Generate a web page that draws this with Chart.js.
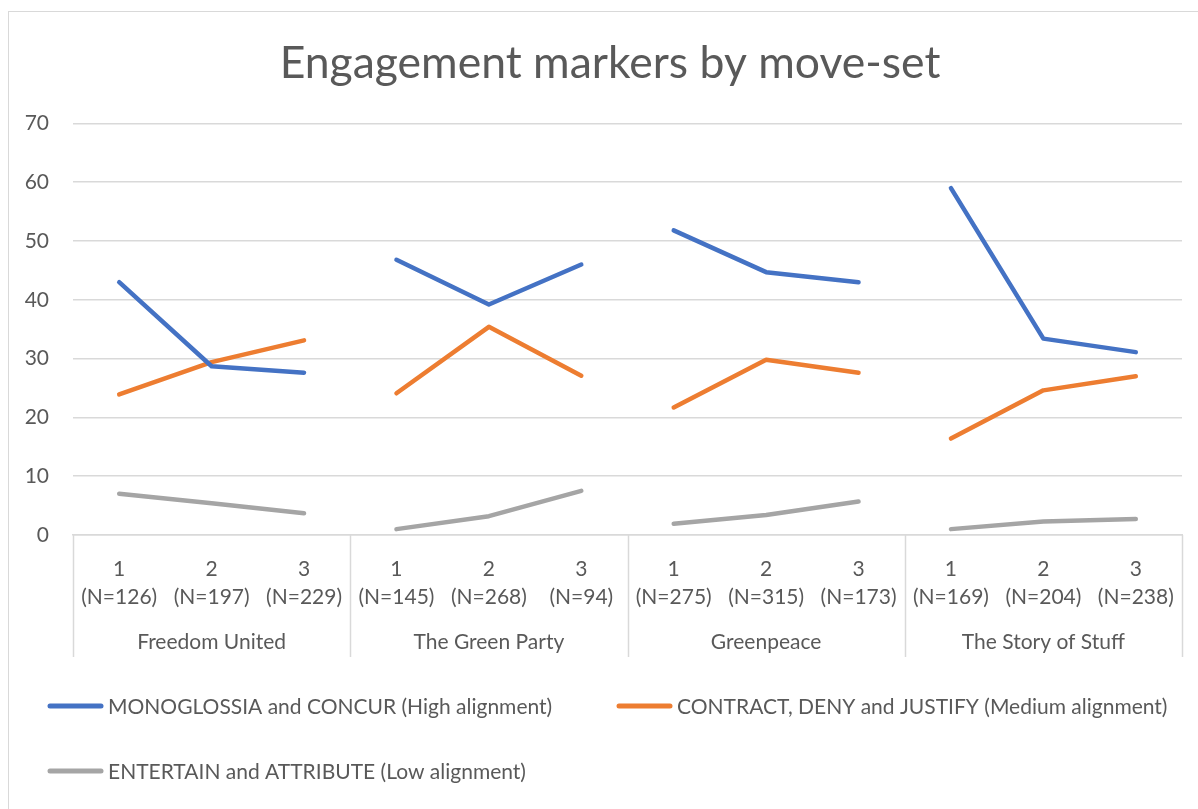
<!DOCTYPE html>
<html>
<head>
<meta charset="utf-8">
<title>Engagement markers by move-set</title>
<script src="https://cdn.jsdelivr.net/npm/chart.js@4.4.1/dist/chart.umd.min.js"></script>
<style>
  html, body { margin: 0; padding: 0; background: #ffffff; overflow: hidden; }
  #frame {
    position: absolute; left: 8px; top: 11px;
    width: 1204px; height: 812px;
    border: 1px solid #d9d9d9; box-sizing: border-box; background: #ffffff;
  }
  #frame canvas { display: block; }
</style>
</head>
<body>
<div id="frame"><canvas id="chart" width="1202" height="810"></canvas></div>
<script>
// Organisations (outer category level)
const groups = ['Freedom United', 'The Green Party', 'Greenpeace', 'The Story of Stuff'];
// Move-sets within each organisation (inner category level)
const moveSets = ['1', '2', '3'];
// Number of markers per move-set, in the same order as the categories
const sampleSizes = [126, 197, 229, 145, 268, 94, 275, 315, 173, 169, 204, 238];

// Percentages per engagement type
const highAlignment = [43.0, 28.7, 27.6, 46.8, 39.2, 46.0, 51.8, 44.7, 43.0, 59.0, 33.4, 31.1];
const mediumAlignment = [23.9, 29.4, 33.1, 24.1, 35.4, 27.1, 21.7, 29.8, 27.6, 16.4, 24.6, 27.0];
const lowAlignment = [7.0, 5.4, 3.7, 1.0, 3.2, 7.5, 1.9, 3.4, 5.7, 1.0, 2.3, 2.7];

const seriesNames = [
  'MONOGLOSSIA and CONCUR (High alignment)',
  'CONTRACT, DENY and JUSTIFY (Medium alignment)',
  'ENTERTAIN and ATTRIBUTE (Low alignment)'
];

const yTicks = [0, 10, 20, 30, 40, 50, 60, 70];

// Two-line inner labels: move-set number over its N
const categoryLabels = sampleSizes.map((n, i) => [moveSets[i % moveSets.length], '(N=' + n + ')']);

const TEXT = '#595959';
const RULE = '#d9d9d9';
const FONT = 'Lato, "Open Sans", sans-serif';
const perGroup = moveSets.length;

// Lines are not joined across organisations
const breakBetweenGroups = ctx =>
  (ctx.p0DataIndex % perGroup === perGroup - 1) ? 'rgba(0,0,0,0)' : undefined;

function lineSeries(label, data, color) {
  return {
    label, data,
    borderColor: color,
    backgroundColor: color,
    borderWidth: 4.5,
    borderCapStyle: 'round',
    borderJoinStyle: 'round',
    pointRadius: 0,
    pointHoverRadius: 0,
    tension: 0,
    fill: false,
    segment: { borderColor: breakBetweenGroups }
  };
}

// Outer category level: dividers and organisation names under the inner labels
const groupAxisPlugin = {
  id: 'groupAxis',
  afterDraw(chart) {
    const xs = chart.scales.x;
    const ctx = chart.ctx;
    const top = xs.top;
    const bottom = top + 122;
    ctx.save();
    ctx.strokeStyle = RULE;
    ctx.lineWidth = 1.5;
    for (let g = 0; g <= groups.length; g++) {
      const px = Math.round(xs.getPixelForValue(g * perGroup - 0.5)) + 0.5;
      ctx.beginPath();
      ctx.moveTo(px, top);
      ctx.lineTo(px, bottom);
      ctx.stroke();
    }
    ctx.fillStyle = TEXT;
    ctx.font = '21px ' + FONT;
    ctx.textAlign = 'center';
    ctx.textBaseline = 'middle';
    groups.forEach((name, g) => {
      const cx = xs.getPixelForValue(g * perGroup + (perGroup - 1) / 2);
      ctx.fillText(name, cx, top + 107);
    });
    ctx.restore();
  }
};

// Legend laid out in two rows at the bottom of the frame
const legendPlugin = {
  id: 'rowLegend',
  afterDraw(chart) {
    const ctx = chart.ctx;
    const slots = [
      { x: 39, y: 694 },
      { x: 608, y: 694 },
      { x: 39, y: 759 }
    ];
    ctx.save();
    ctx.font = '21px ' + FONT;
    ctx.textBaseline = 'middle';
    ctx.textAlign = 'left';
    chart.data.datasets.forEach((ds, i) => {
      const s = slots[i];
      ctx.strokeStyle = ds.borderColor;
      ctx.lineWidth = 5;
      ctx.lineCap = 'round';
      ctx.beginPath();
      ctx.moveTo(s.x + 2, s.y);
      ctx.lineTo(s.x + 53, s.y);
      ctx.stroke();
      ctx.fillStyle = TEXT;
      ctx.fillText(ds.label, s.x + 60, s.y + 1);
    });
    ctx.restore();
  }
};

new Chart(document.getElementById('chart'), {
  type: 'line',
  data: {
    labels: categoryLabels,
    datasets: [
      lineSeries(seriesNames[0], highAlignment, '#4472C4'),
      lineSeries(seriesNames[1], mediumAlignment, '#ED7D31'),
      lineSeries(seriesNames[2], lowAlignment, '#A5A5A5')
    ]
  },
  options: {
    responsive: false,
    animation: false,
    events: [],
    layout: { padding: { left: 0, right: 0, top: 0, bottom: 162 } },
    plugins: {
      legend: { display: false },
      tooltip: { enabled: false },
      title: {
        display: true,
        text: 'Engagement markers by move-set',
        color: TEXT,
        font: { family: FONT, size: 44.5, weight: 'normal', lineHeight: 1.2 },
        padding: { top: 25, bottom: 33 }
      }
    },
    scales: {
      x: {
        type: 'category',
        offset: true,
        grid: { display: false, offset: true },
        border: { display: true, color: RULE, width: 1.5 },
        ticks: {
          color: TEXT,
          font: { family: FONT, size: 21, lineHeight: 28 / 21 },
          padding: 12,
          autoSkip: false,
          maxRotation: 0,
          minRotation: 0
        },
        afterFit(scale) { scale.height = 125; }
      },
      y: {
        min: yTicks[0],
        max: yTicks[yTicks.length - 1],
        afterBuildTicks(scale) { scale.ticks = yTicks.map(v => ({ value: v })); },
        grid: { color: RULE, lineWidth: 1.5, drawTicks: false },
        border: { display: false },
        ticks: {
          color: TEXT,
          font: { family: FONT, size: 21 },
          padding: 24
        },
        afterFit(scale) { scale.width = 64; }
      },
      // empty right-hand margin so the title stays centred on the whole frame
      yRight: {
        position: 'right',
        display: true,
        grid: { display: false, drawTicks: false },
        border: { display: false },
        ticks: { display: false },
        afterFit(scale) { scale.width = 29; }
      }
    }
  },
  plugins: [groupAxisPlugin, legendPlugin]
});
</script>
</body>
</html>
